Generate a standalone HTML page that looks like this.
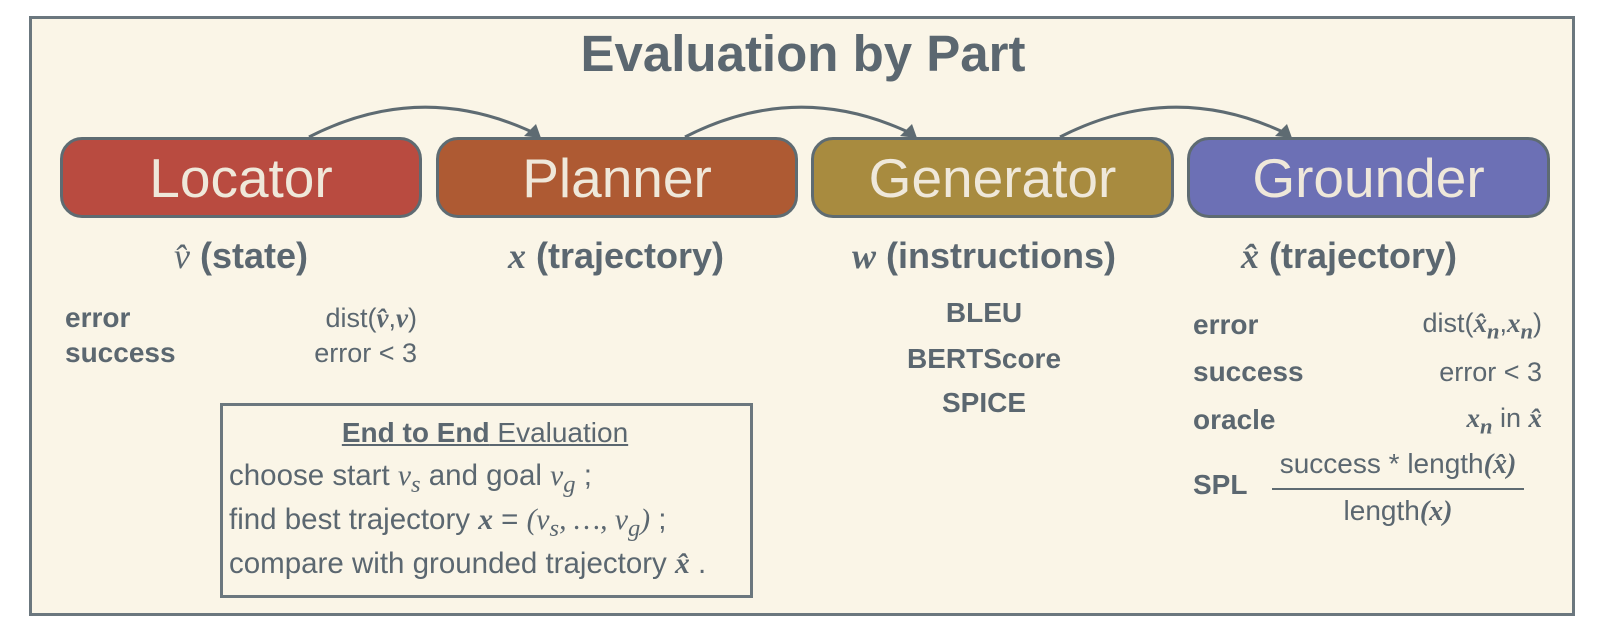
<!DOCTYPE html>
<html><head><meta charset="utf-8"><style>
body{margin:0;width:1613px;height:626px;background:#fff;position:relative;overflow:hidden;font-family:"Liberation Sans",sans-serif;color:#5b6770}
.outer{position:absolute;left:29px;top:16px;width:1540px;height:594px;border:3px solid #6b777e;background:#faf5e7}
.t{position:absolute;white-space:nowrap}
.c{transform:translateX(-50%)}
.box{position:absolute;top:137px;height:75px;border:3px solid #5e6b72;border-radius:22px;color:#efe8da;font-size:55px;text-align:center;line-height:77px}
.m{font-family:"Liberation Serif",serif;font-style:italic}
.mb{font-family:"Liberation Serif",serif;font-style:italic;font-weight:bold}
.lab{font-size:36px;font-weight:bold;top:235px}
.k{font-size:28px;font-weight:bold}
.v{font-size:27px;text-align:right}
.i{font-size:28px}
.j{font-size:29.5px}
</style></head><body>
<div class="outer"></div>
<div class="t c" style="left:803px;top:24px;font-size:51px;font-weight:bold">Evaluation by Part</div>
<div class="box" style="left:60px;width:356px;background:#b94b40">Locator</div>
<div class="box" style="left:436px;width:356px;background:#ae5a33">Planner</div>
<div class="box" style="left:811px;width:357px;background:#a88b3f">Generator</div>
<div class="box" style="left:1187px;width:357px;background:#6c70b5">Grounder</div>
<svg style="position:absolute;left:0;top:0" width="1613" height="626">
<g fill="none" stroke="#5e6b72" stroke-width="3">
<path d="M309 137 Q 420 80 532 132"/>
<path d="M685 137 Q 796 80 908 132"/>
<path d="M1060 137 Q 1171 80 1283 132"/>
</g>
<g fill="#5e6b72">
<polygon points="541,138 524,136 536,124"/>
<polygon points="917,138 900,136 912,124"/>
<polygon points="1292,138 1275,136 1287,124"/>
</g>
<line x1="1272" y1="489" x2="1524" y2="489" stroke="#5e6b72" stroke-width="2"/>
</svg>
<div class="t c lab" style="left:241px"><span class="m" style="font-weight:normal">v̂</span> (state)</div>
<div class="t c lab" style="left:616px"><span class="mb">x</span> (trajectory)</div>
<div class="t c lab" style="left:984px"><span class="mb">w</span> (instructions)</div>
<div class="t c lab" style="left:1349px"><span class="mb">x̂</span> (trajectory)</div>
<div class="t k" style="left:65px;top:302px">error</div>
<div class="t k" style="left:65px;top:337px">success</div>
<div class="t v" style="right:1196px;top:303px">dist(<span class="mb">v̂</span>,<span class="mb">v</span>)</div>
<div class="t v" style="right:1196px;top:338px">error &lt; 3</div>
<div class="t c k" style="left:984px;top:297px">BLEU</div>
<div class="t c k" style="left:984px;top:343px">BERTScore</div>
<div class="t c k" style="left:984px;top:387px">SPICE</div>
<div class="t k" style="left:1193px;top:309px">error</div>
<div class="t k" style="left:1193px;top:356px">success</div>
<div class="t k" style="left:1193px;top:404px">oracle</div>
<div class="t k" style="left:1193px;top:469px">SPL</div>
<div class="t v" style="right:71px;top:308px">dist(<span class="mb">x̂<sub>n</sub></span>,<span class="mb">x<sub>n</sub></span>)</div>
<div class="t v" style="right:71px;top:357px">error &lt; 3</div>
<div class="t v" style="right:71px;top:403px"><span class="mb">x<sub>n</sub></span> in <span class="mb">x̂</span></div>
<div class="t c" style="left:1398px;top:448px;font-size:28px">success * length<span class="mb">(x̂)</span></div>
<div class="t c" style="left:1398px;top:495px;font-size:28px">length<span class="mb">(x)</span></div>
<div style="position:absolute;left:220px;top:403px;width:527px;height:189px;border:3px solid #6b777e"></div>
<div class="t c i" style="left:485px;top:417px;text-decoration:underline"><b>End to End</b> Evaluation</div>
<div class="t j" style="left:229px;top:459px">choose start <span class="m">v<sub>s</sub></span> and goal <span class="m">v<sub>g</sub></span> ;</div>
<div class="t j" style="left:229px;top:503px">find best trajectory <span class="mb">x</span> = <span class="m">(v<sub>s</sub>, …, v<sub>g</sub>)</span> ;</div>
<div class="t j" style="left:229px;top:547px">compare with grounded trajectory <span class="mb">x̂</span> .</div>
</body></html>
